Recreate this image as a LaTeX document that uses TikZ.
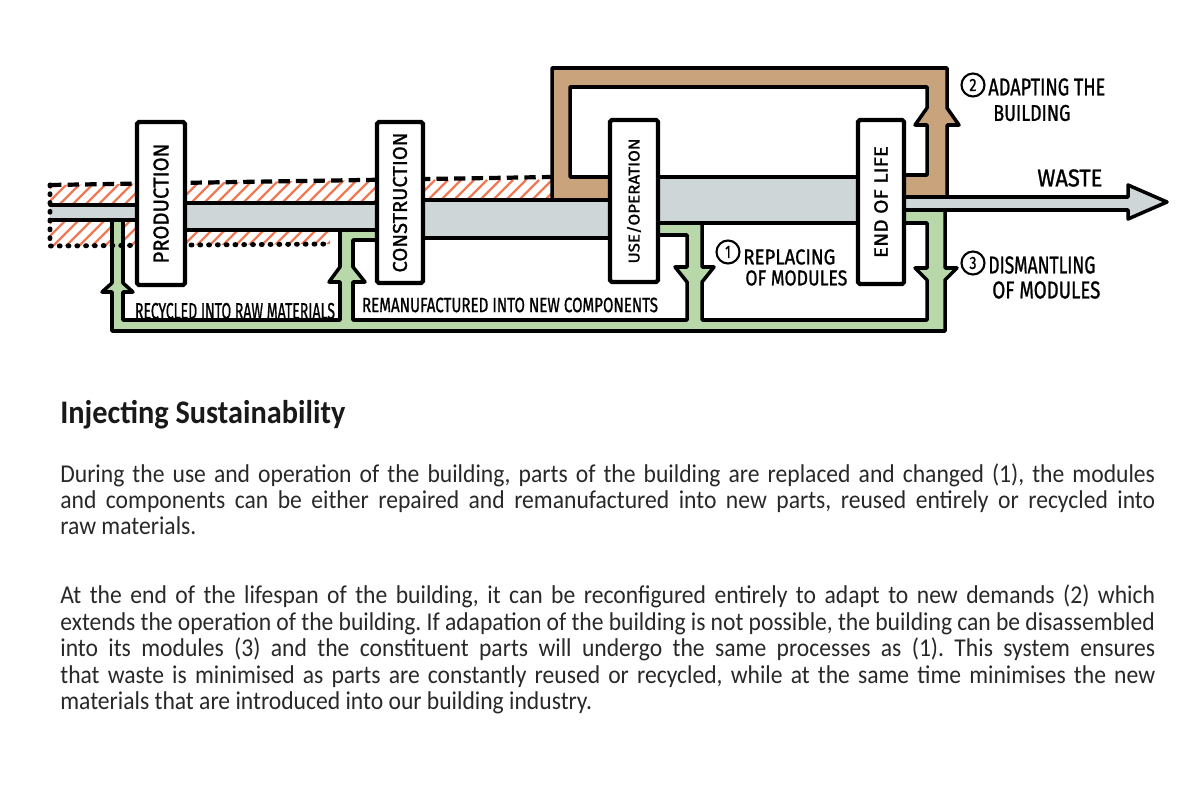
\documentclass[tikz,border=0pt]{standalone}
\usepackage{fontspec}
\usepackage{graphicx}
\setmainfont{Carlito}[FakeStretch=0.92]
\newfontfamily\hand{Fira Sans}[FakeBold=1.2]
\definecolor{greyband}{RGB}{207,214,216}
\definecolor{brownband}{RGB}{201,163,124}
\definecolor{greenband}{RGB}{184,216,170}
\definecolor{hatchc}{RGB}{240,122,86}
\definecolor{bodytext}{RGB}{40,40,40}
\newcommand{\hw}[3]{\resizebox{#1}{#2}{\hand #3}}
\frenchspacing
\tikzset{
  ol/.style={line width=2pt, line join=round, line cap=round},
  procbox/.style={draw, line width=2.4pt, fill=white, inner sep=0pt, rounded corners=1pt},
  numc/.style={circle, draw, line width=1.2pt, minimum size=0.46cm, inner sep=0pt},
  lbl/.style={inner sep=0pt},
  hatchline/.style={hatchc, line width=1.3pt},
  bodyline/.style={anchor=base west, inner sep=0pt, text=bodytext, font=\fontsize{14.6}{17}\selectfont}
}
\begin{document}
\begin{tikzpicture}[x=0.02cm, y=-0.02cm]
\useasboundingbox (0,0) rectangle (1200,800);
% hatched zones
\begin{scope}
\clip (50,185) -- (552,177) -- (552,212) -- (50,212) -- cycle;
\foreach \i in {0,13,...,570} \draw[hatchline] (\i+10,215) -- (\i+45,180);
\end{scope}
\begin{scope}
\clip (50,215) -- (330,215) -- (330,244) -- (50,246) -- cycle;
\foreach \i in {0,13,...,330} \draw[hatchline] (\i+10,250) -- (\i+45,215);
\end{scope}
% grey band
\fill[greyband] (50,205) rectangle (161,220);
\fill[greyband] (161,203) rectangle (400,230);
\fill[greyband] (400,200) rectangle (634,238);
\fill[greyband] (634,177) rectangle (881,223);
\fill[greyband] (881,197) -- (1128,197) -- (1128,185) -- (1167,202) -- (1128,219) -- (1128,210) -- (881,210) -- cycle;
% green loop
\fill[greenband] (112,220) rectangle (123,331);
\fill[greenband] (112,320) rectangle (945,331);
\fill[greenband] (340,230) rectangle (400,240);
\fill[greenband] (340,230) rectangle (353,331);
\fill[greenband] (634,223) rectangle (702,235);
\fill[greenband] (687,223) rectangle (702,331);
\fill[greenband] (881,210) rectangle (945,223);
\fill[greenband] (927,210) rectangle (945,331);
\fill[greenband] (112,283) -- (102,292) -- (133,292) -- (123,283) -- cycle;
\fill[greenband] (340,267) -- (329,282) -- (365,282) -- (353,267) -- cycle;
\fill[greenband] (687,282) -- (675,267) -- (714,267) -- (702,282) -- cycle;
\fill[greenband] (927,280) -- (915,268) -- (957,268) -- (945,280) -- cycle;
% brown loop
\fill[brownband] (552,198) -- (552,68) -- (947,68) -- (947,197) -- (881,197) -- (881,175) -- (927,175) -- (927,87) -- (570,87) -- (570,177) -- (634,177) -- (634,198) -- cycle;
\fill[brownband] (927,108) -- (915,125) -- (959,125) -- (947,108) -- cycle;
% outlines grey band
\draw[ol] (50,205) -- (137,205);
\draw[ol] (185,203) -- (377,203);
\draw[ol] (423,200) -- (610,200);
\draw[ol] (658,177) -- (857,177);
\draw[ol] (50,220) -- (137,220);
\draw[ol] (185,230) -- (377,230);
\draw[ol] (423,238) -- (610,238);
\draw[ol] (658,223) -- (857,223);
\draw[ol] (905,197) -- (1128,197) -- (1128,185) -- (1167,202) -- (1128,219) -- (1128,210) -- (905,210);
% outlines green
\draw[ol] (112,220) -- (112,283) -- (102,292) -- (112,292) -- (112,331) -- (945,331) -- (945,280) -- (957,268) -- (945,268) -- (945,210);
\draw[ol] (123,220) -- (123,283) -- (133,292) -- (123,292) -- (123,320) -- (340,320) -- (340,282) -- (329,282) -- (340,267) -- (340,230);
\draw[ol] (377,240) -- (353,240) -- (353,267) -- (365,282) -- (353,282) -- (353,320) -- (687,320) -- (687,282) -- (675,267) -- (687,267) -- (687,235) -- (658,235);
\draw[ol] (702,223) -- (702,267) -- (714,267) -- (702,282) -- (702,320) -- (927,320) -- (927,280) -- (915,268) -- (927,268) -- (927,223) -- (905,223);
% outlines brown
\draw[ol] (552,200) -- (552,68) -- (947,68) -- (947,108) -- (959,125) -- (947,125) -- (947,197);
\draw[ol] (610,177) -- (570,177) -- (570,87) -- (927,87) -- (927,108) -- (915,125) -- (927,125) -- (927,175) -- (905,175);
% dashed / dotted outline
\draw[line width=2.4pt, dash pattern=on 6.5pt off 3.5pt] (50,185) -- (552,177);
\draw[line width=2.8pt, line cap=round, dash pattern=on 0.5pt off 4.5pt] (50,185) -- (50,246) -- (330,244);
% process boxes
\node[procbox, minimum width=0.96cm, minimum height=3.26cm] (prod) at (161,203.5) {\rotatebox{90}{\hw{2.4cm}{0.3cm}{PRODUCTION}}};
\node[procbox, minimum width=0.92cm, minimum height=3.22cm] (cons) at (400,202.5) {\rotatebox{90}{\hw{2.8cm}{0.28cm}{CONSTRUCTION}}};
\node[procbox, minimum width=0.96cm, minimum height=3.24cm] (use) at (634,201) {\rotatebox{90}{\hw{2.5cm}{0.25cm}{USE/OPERATION}}};
\node[procbox, minimum width=0.92cm, minimum height=3.28cm] (eol) at (881,202) {\rotatebox{90}{\hw{2.24cm}{0.27cm}{END OF LIFE}}};
% loop labels
\node[lbl] (recy) at (235,311) {\hw{4cm}{0.32cm}{RECYCLED INTO RAW MATERIALS}};
\node[lbl] (reman) at (510,305) {\hw{5.92cm}{0.29cm}{REMANUFACTURED INTO NEW COMPONENTS}};
\node[numc] (n1) at (728,252) {\hw{0.11cm}{0.24cm}{1}};
\node[lbl, anchor=west] (repl1) at (743,257) {\hw{1.84cm}{0.3cm}{REPLACING}};
\node[lbl, anchor=west] (repl2) at (745,278) {\hw{2.04cm}{0.3cm}{OF MODULES}};
\node[numc] (n2) at (973,85) {\hw{0.14cm}{0.24cm}{2}};
\node[lbl, anchor=west] (adap1) at (988,87) {\hw{2.34cm}{0.34cm}{ADAPTING THE}};
\node[lbl, anchor=west] (adap2) at (993,113) {\hw{1.54cm}{0.32cm}{BUILDING}};
\node[lbl, anchor=west] (waste) at (1037,178) {\hw{1.3cm}{0.34cm}{WASTE}};
\node[numc] (n3) at (973,263) {\hw{0.14cm}{0.24cm}{3}};
\node[lbl, anchor=west] (dism1) at (988,265) {\hw{2.14cm}{0.34cm}{DISMANTLING}};
\node[lbl, anchor=west] (dism2) at (992,290) {\hw{2.16cm}{0.34cm}{OF MODULES}};
% heading
\node[anchor=base west, inner sep=0pt, text=black!90] (head) at (60,423) {\resizebox{5.7cm}{!}{\bfseries Injecting Sustainability}};
% paragraph 1
\node[bodyline] (p1a) at (60,482) {\makebox[21.9cm][s]{During the use and operation of the building, parts of the building are replaced and changed (1), the modules}};
\node[bodyline] (p1b) at (60,508) {\makebox[21.9cm][s]{and components can be either repaired and remanufactured into new parts, reused entirely or recycled into}};
\node[bodyline] (p1c) at (60,534) {raw materials.};
% paragraph 2
\node[bodyline] (p2a) at (60,603) {\makebox[21.9cm][s]{At the end of the lifespan of the building, it can be reconfigured entirely to adapt to new demands (2) which}};
\node[bodyline] (p2b) at (60,630) {\makebox[21.9cm][s]{extends the operation of the building. If adapation of the building is not possible, the building can be disassembled}};
\node[bodyline] (p2c) at (60,656) {\makebox[21.9cm][s]{into its modules (3) and the constituent parts will undergo the same processes as (1). This system ensures}};
\node[bodyline] (p2d) at (60,683) {\makebox[21.9cm][s]{that waste is minimised as parts are constantly reused or recycled, while at the same time minimises the new}};
\node[bodyline] (p2e) at (60,709) {materials that are introduced into our building industry.};
\end{tikzpicture}
\end{document}
